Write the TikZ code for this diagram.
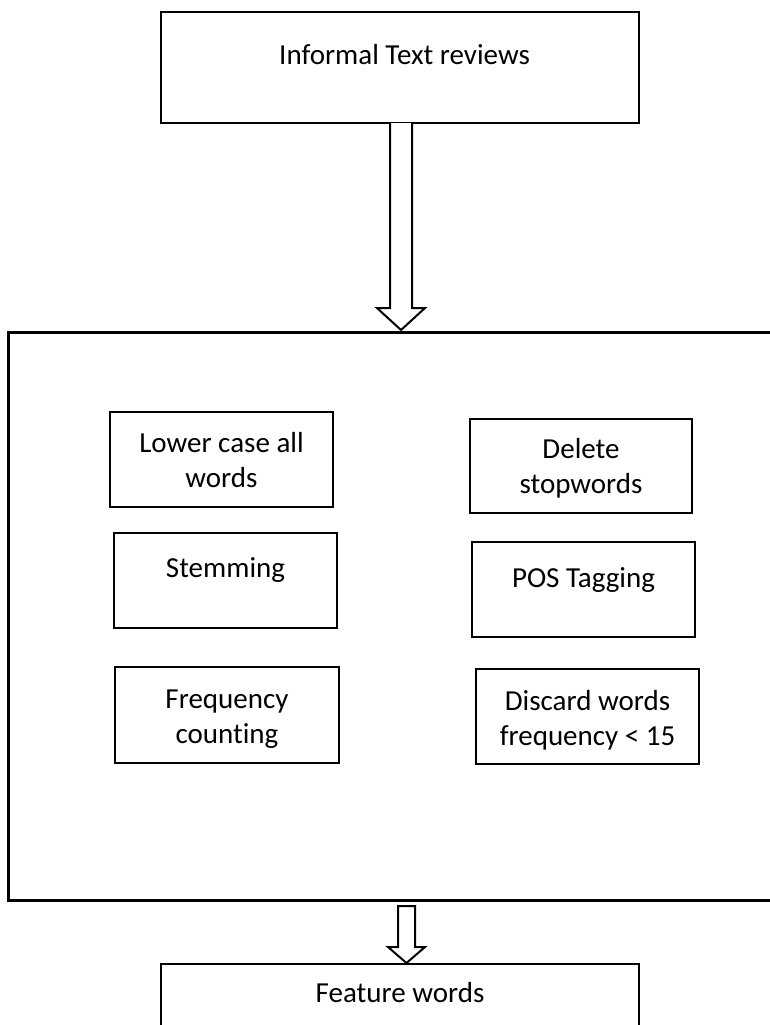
\documentclass[tikz,border=0pt]{standalone}
\usepackage{fontspec}
\setmainfont{Carlito}[Ligatures=NoCommon]
\usetikzlibrary{calc}
\begin{document}
\begin{tikzpicture}[x=1pt,y=-1pt,
  box/.style={draw=black,line width=2pt,inner sep=0pt,fill=none},
  bigbox/.style={draw=black,line width=3pt,inner sep=0pt},
  lbl/.style={font=\fontsize{29}{35}\selectfont,inner sep=0pt,anchor=base},
  barrow/.style={draw=black,line width=2pt,fill=white,line join=miter}]
\useasboundingbox (0,0) rectangle (770,1025);
\begin{scope}
\clip (0,0) rectangle (770,1025);
% top box
\node[box,minimum width=478pt,minimum height=111pt] (top) at (400,67.5) {};
\node[lbl] (toptxt) at (404.5,65) {Informal Text reviews};
% big box (extends beyond right edge)
\node[bigbox,minimum width=792pt,minimum height=568pt] (big) at (404,616) {};
% feature box (extends beyond bottom)
\node[box,minimum width=478pt,minimum height=100pt] (feat) at (400,1014) {};
\node[lbl] (feattxt) at (400,1002) {Feature words};
% inner boxes
\node[box,minimum width=223pt,minimum height=95pt] (lc) at (221.5,459.5) {};
\node[lbl] (lct1) at (221.5,452) {Lower case all};
\node[lbl] (lct2) at (221.5,487) {words};
\node[box,minimum width=222pt,minimum height=94pt] (del) at (581,466) {};
\node[lbl] (delt1) at (581,458) {Delete};
\node[lbl] (delt2) at (581,493) {stopwords};
\node[box,minimum width=223pt,minimum height=95pt] (stem) at (225.5,580.5) {};
\node[lbl] (stemt) at (225.5,577) {Stemming};
\node[box,minimum width=223pt,minimum height=95pt] (pos) at (583.5,589.5) {};
\node[lbl] (post) at (583.5,587) {POS Tagging};
\node[box,minimum width=224pt,minimum height=96pt] (freq) at (227,715) {};
\node[lbl] (freqt1) at (227,708) {Frequency};
\node[lbl] (freqt2) at (227,743) {counting};
\node[box,minimum width=223pt,minimum height=95pt] (disc) at (587.5,716.5) {};
\node[lbl] (disct1) at (587.5,710) {Discard words};
\node[lbl] (disct2) at (587.5,745) {frequency < 15};
% top block arrow
\coordinate (a1) at (401,123);
\coordinate (a1t) at (401,330);
\draw[barrow] ($(a1)+(-11,0)$) -- ($(a1t)+(-11,-22)$) -- ($(a1t)+(-24,-22)$) -- (a1t)
  -- ($(a1t)+(24,-22)$) -- ($(a1t)+(11,-22)$) -- ($(a1)+(11,0)$);
% bottom block arrow
\coordinate (a2) at (406.5,906);
\coordinate (a2t) at (406.5,963);
\draw[barrow] ($(a2)+(-8.5,0)$) -- ($(a2t)+(-8.5,-16)$) -- ($(a2t)+(-18.5,-16)$) -- (a2t)
  -- ($(a2t)+(18.5,-16)$) -- ($(a2t)+(8.5,-16)$) -- ($(a2)+(8.5,0)$) -- cycle;
\end{scope}
\end{tikzpicture}
\end{document}
